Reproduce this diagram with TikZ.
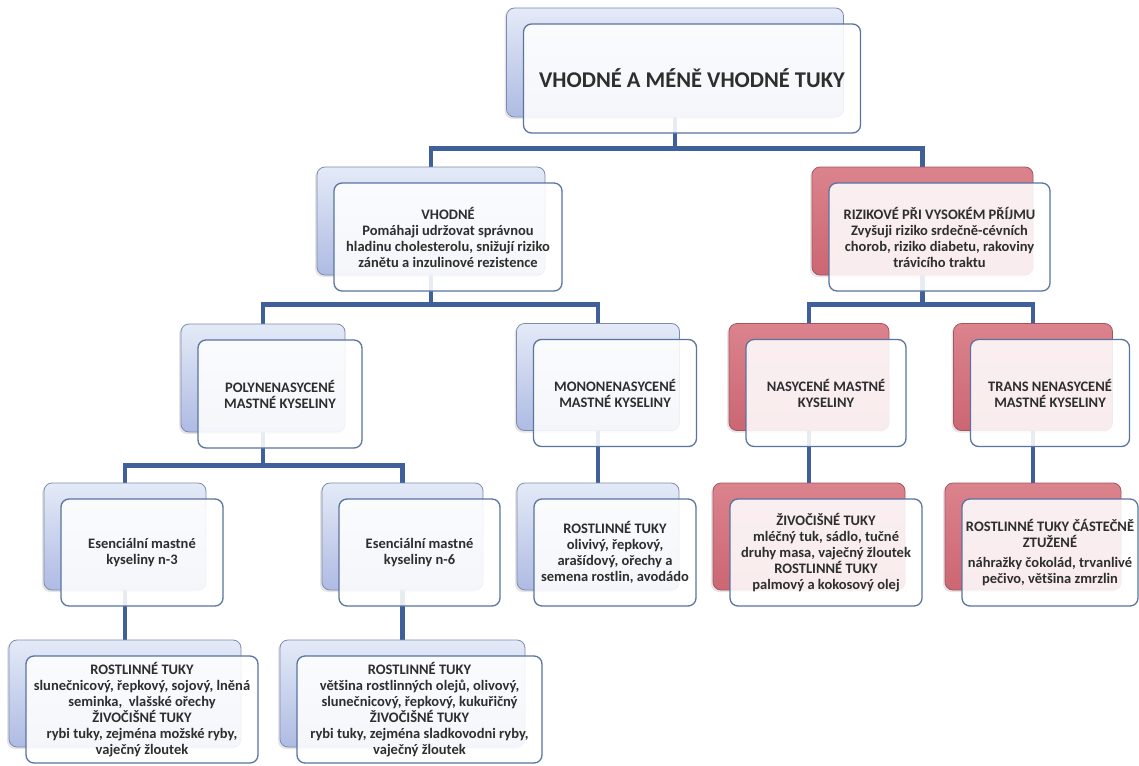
\documentclass[tikz,border=0pt]{standalone}
\usepackage{fontspec}
\setmainfont{Carlito}
\usetikzlibrary{backgrounds,shadows}

\definecolor{linkblue}{HTML}{40609C}
\definecolor{frameblue}{HTML}{5A74A0}
\definecolor{backedge}{HTML}{7D8BB0}
\definecolor{bluetop}{HTML}{E4EAF7}
\definecolor{bluebot}{HTML}{AEBBE3}
\definecolor{redtop}{HTML}{DB838D}
\definecolor{redbot}{HTML}{CC6673}
\definecolor{rededge}{HTML}{A5555F}
\definecolor{inktext}{HTML}{2E2E2E}

\tikzset{
  backblue/.style={draw=backedge, line width=0.8pt, rounded corners=8pt,
    top color=bluetop, bottom color=bluebot, inner sep=0pt,
    drop shadow={shadow xshift=-2pt, shadow yshift=-2pt, opacity=0.2}},
  backred/.style={draw=rededge, line width=0.8pt, rounded corners=8pt,
    top color=redtop, bottom color=redbot, inner sep=0pt,
    drop shadow={shadow xshift=-2pt, shadow yshift=-2pt, opacity=0.2}},
  frontbox/.style={draw=frameblue, line width=1.3pt, rounded corners=8pt,
    fill=white, fill opacity=0.88, text opacity=1, text=inktext,
    align=center, inner sep=0pt,
    font=\fontsize{14.5}{16}\selectfont\bfseries},
  conn/.style={draw=linkblue, line width=4.5pt},
}

% \boxpair{name}{back style}{cx}{cy}{width}{height}{text}
\newcommand\boxpair[7]{%
  \node[#2, minimum width=#5pt, minimum height=#6pt] (#1) at (#3,#4) {};
  \node[frontbox, minimum width=#5pt, minimum height=#6pt] (#1-f) at (#3+17,#4+16) {#7};
}

\begin{document}
\begin{tikzpicture}[x=1pt,y=-1pt]
\useasboundingbox (0,0) rectangle (1139,765);

% level 1
\boxpair{top}{backblue}{675}{62.5}{337}{109}{\fontsize{22.5}{26}\selectfont VHODNÉ A MÉNĚ VHODNÉ TUKY}

% level 2
\boxpair{vh}{backblue}{431}{221}{228}{108}{VHODNÉ\\Pomáhaji udržovat správnou\\hladinu cholesterolu, snižují riziko\\zánětu a inzulinové rezistence}
\boxpair{ri}{backred}{922.5}{221}{221}{108}{RIZIKOVÉ PŘI VYSOKÉM PŘÍJMU\\Zvyšuji riziko srdečně-cévních\\chorob, riziko diabetu, rakoviny\\trávicího traktu}

% level 3
\boxpair{poly}{backblue}{263}{378}{164}{108}{POLYNENASYCENÉ\\MASTNÉ KYSELINY}
\boxpair{mono}{backblue}{598}{377}{163}{107}{MONONENASYCENÉ\\MASTNÉ KYSELINY}
\boxpair{nas}{backred}{809}{377}{160}{107}{NASYCENÉ MASTNÉ\\KYSELINY}
\boxpair{trans}{backred}{1033}{377}{159}{107}{TRANS NENASYCENÉ\\MASTNÉ KYSELINY}

% level 4
\boxpair{n3}{backblue}{125}{536.5}{162}{107}{Esenciální mastné\\kyseliny n-3}
\boxpair{n6}{backblue}{402.5}{536.5}{161}{107}{Esenciální mastné\\kyseliny n-6}
\boxpair{mrost}{backblue}{598}{536.5}{162}{107}{ROSTLINNÉ TUKY\\olivivý, řepkový,\\arašídový, ořechy a\\semena rostlin, avodádo}
\boxpair{ziv}{backred}{809}{536.5}{192}{107}{ŽIVOČIŠNÉ TUKY\\mléčný tuk, sádlo, tučné\\druhy masa, vaječný žloutek\\ROSTLINNÉ TUKY\\palmový a kokosový olej}
\boxpair{rtuk}{backred}{1033}{536.5}{176}{107}{ROSTLINNÉ TUKY ČÁSTEČNĚ\\ZTUŽENÉ\\[4pt]náhražky čokolád, trvanlivé\\pečivo, většina zmrzlin}

% level 5
\boxpair{b3}{backblue}{125}{693.5}{232}{107}{ROSTLINNÉ TUKY\\slunečnicový, řepkový, sojový, lněná\\seminka,\ \ vlašské ořechy\\ŽIVOČIŠNÉ TUKY\\rybi tuky, zejména možské ryby,\\vaječný žloutek}
\boxpair{b6}{backblue}{402.5}{693.5}{245}{107}{ROSTLINNÉ TUKY\\většina rostlinných olejů, olivový,\\slunečnicový, řepkový, kukuřičný\\ŽIVOČIŠNÉ TUKY\\rybi tuky, zejména sladkovodni ryby,\\vaječný žloutek}

\begin{scope}[on background layer]
  \fill[white] (0,0) rectangle (1139,765);
  % tree connectors
  \draw[conn] (top.south) -- ++(0,31) -| (vh.north);
  \draw[conn] (top.south) -- ++(0,31) -| (ri.north);
  \draw[conn] (vh.south) -- ++(0,29) -| (poly.north);
  \draw[conn] (vh.south) -- ++(0,29) -| (mono.north);
  \draw[conn] (ri.south) -- ++(0,29) -| (nas.north);
  \draw[conn] (ri.south) -- ++(0,29) -| (trans.north);
  \draw[conn] (poly.south) -- ++(0,33) -| (n3.north);
  \draw[conn] (poly.south) -- ++(0,33) -| (n6.north);
  \draw[conn] (mono.south) -- (mrost.north);
  \draw[conn] (nas.south) -- (ziv.north);
  \draw[conn] (trans.south) -- (rtuk.north);
  \draw[conn] (n3.south) -- (b3.north);
  \draw[conn] (n6.south) -- (b6.north);
\end{scope}
\end{tikzpicture}
\end{document}
